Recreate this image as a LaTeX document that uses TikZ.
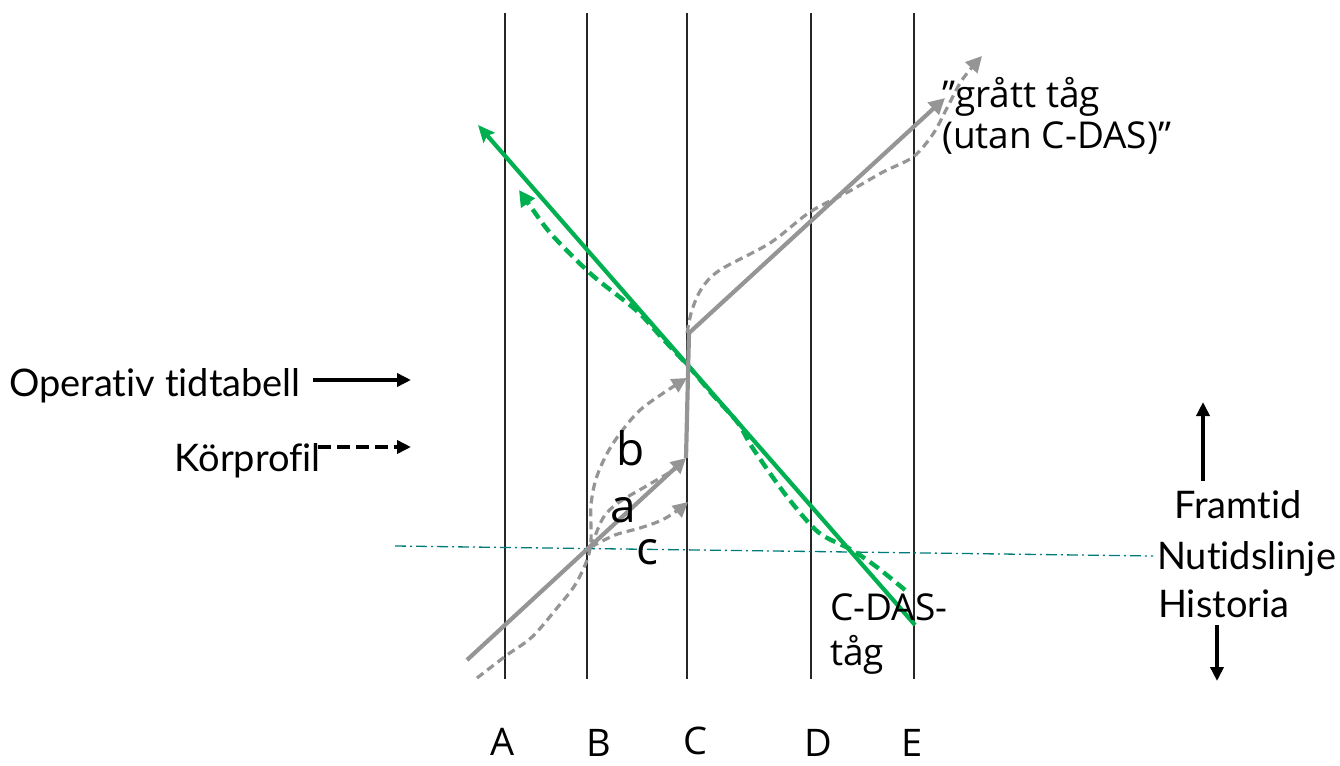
\documentclass[tikz,border=0pt]{standalone}
\usepackage{fontspec}
\setmainfont{Open Sans}
\newfontfamily\latof[Ligatures=NoCommon,Contextuals=NoAlternate]{Lato}
\newfontfamily\osans{Open Sans}
\usetikzlibrary{arrows.meta}
\definecolor{cgreen}{HTML}{00B050}
\definecolor{cgray}{HTML}{959595}
\definecolor{cteal}{HTML}{007B7B}
\begin{document}
\begin{tikzpicture}[x=1pt,y=-1pt,
  stationline/.style={draw=black!85,line width=1.3pt},
  graysolid/.style={draw=cgray,line width=4.2pt},
  graydash/.style={draw=cgray,line width=3.2pt,dash pattern=on 8pt off 5pt},
  greensolid/.style={draw=cgreen,line width=4.2pt},
  greendash/.style={draw=cgreen,line width=4.4pt,dash pattern=on 11pt off 6pt},
  blk/.style={draw=black,line width=3.6pt,-{Triangle[length=14pt,width=13pt]}},
  lbl/.style={font=\osans\fontsize{37}{44}\selectfont,inner sep=0pt},
  latolbl/.style={font=\latof\fontsize{38}{44}\selectfont,inner sep=0pt},
  station/.style={font=\osans\fontsize{38}{44}\selectfont,inner sep=0pt,anchor=base},
  small/.style={font=\osans\fontsize{46}{50}\selectfont,inner sep=0pt}]
\useasboundingbox (0,0) rectangle (1340,765);
% station lines
\foreach \n/\x in {A/505,B/587,C/687,D/811,E/914}{
  \coordinate (\n top) at (\x,13);
  \coordinate (\n bot) at (\x,679);
  \draw[stationline] (\n top) -- (\n bot);
}
% station labels
\node[station] (lA) at (503,755) {A};
\node[station] (lB) at (599,756) {B};
\node[station] (lC) at (695,754) {C};
\node[station] (lD) at (818,756) {D};
\node[station] (lE) at (912,756) {E};
% now line
\coordinate (nowL) at (395,546);
\coordinate (nowR) at (1153,556);
\draw[draw=cteal,line width=1.3pt,dash pattern=on 11pt off 4pt on 2pt off 4pt] (nowL) -- (nowR);
% green solid
\coordinate (gs1) at (915,625);
\coordinate (gs2) at (478,125);
\draw[greensolid,-{Stealth[length=17pt,width=15pt,inset=3pt]}] (gs1) -- (gs2);
% green dashed
\draw[greendash,-{Triangle[length=16pt,width=16pt]}] plot[smooth,tension=0.5] coordinates
 {(905,590) (878,568) (852,550) (818,532) (785,494) (752,447) (738,423) (712,394) (690,368) (662,338) (637,311) (592,275) (552,235) (533,210) (519,190)};
% gray solid
\coordinate (g0) at (467,660);
\coordinate (gj) at (590,548);
\coordinate (ga) at (686,458);
\coordinate (gk) at (689,333);
\coordinate (gt) at (945,98);
\draw[graysolid,-{Triangle[length=15pt,width=15pt]}] (g0) -- (ga);
\draw[graysolid,line join=round,-{Triangle[length=16pt,width=16pt]}] (ga) -- (gk) -- (gt);
% gray dashed bottom + b
\draw[graydash,-{Triangle[length=15pt,width=15pt]}] plot[smooth,tension=0.55] coordinates
 {(477,678) (507,655) (532,637) (557,608) (575,585) (587,560) (591,540) (591,505) (597,476) (612,445) (637,413) (662,394) (687,378)};
% a dashed
\draw[graydash] plot[smooth,tension=0.55] coordinates
 {(591,547) (603,518) (618,503) (643,488) (667,474) (680,466)};
% c dashed
\draw[graydash,-{Triangle[length=15pt,width=15pt]}] plot[smooth,tension=0.55] coordinates
 {(591,547) (615,535) (640,528) (662,520) (678,510) (688,502)};
% upper dashed
\draw[graydash,-{Triangle[length=16pt,width=16pt]}] plot[smooth,tension=0.55] coordinates
 {(687,333) (692,310) (702,288) (720,270) (770,243) (810,212) (848,192) (883,172) (913,157) (933,134) (947,108) (962,80) (982,56)};
% labels
\node[small,anchor=center] (la) at (623,510) {a};
\node[small,anchor=center] (lb) at (631,448) {b};
\node[small,anchor=center] (lc) at (647,552) {c};
\node[lbl,anchor=base west] (grey1) at (942,107) {”grått tåg};
\node[lbl,anchor=base west] (grey2) at (942,148) {(utan C-DAS)”};
\node[lbl,anchor=base west] (cdas1) at (830,620) {C-DAS-};
\node[lbl,anchor=base west] (cdas2) at (830,665) {tåg};
% legend
\node[latolbl,anchor=base east] (op) at (301,396) {Operativ tidtabell};
\coordinate (op1) at (313,380);
\coordinate (op2) at (411,380);
\draw[blk] (op1) -- (op2);
\node[latolbl,anchor=base east] (kp) at (321,471) {Körprofil};
\coordinate (kp1) at (318,447);
\coordinate (kp2) at (411,447);
\draw[blk,dash pattern=on 13pt off 6pt] (kp1) -- (kp2);
% right side
\node[latolbl,anchor=base] (fr) at (1238,518) {Framtid};
\node[latolbl,anchor=base west] (nu) at (1157,569) {Nutidslinje};
\node[latolbl,anchor=base west] (hi) at (1158,617) {Historia};
\coordinate (up1) at (1203,481);
\coordinate (up2) at (1203,402);
\draw[blk] (up1) -- (up2);
\coordinate (dn1) at (1217,625);
\coordinate (dn2) at (1217,681);
\draw[blk] (dn1) -- (dn2);
\end{tikzpicture}
\end{document}
